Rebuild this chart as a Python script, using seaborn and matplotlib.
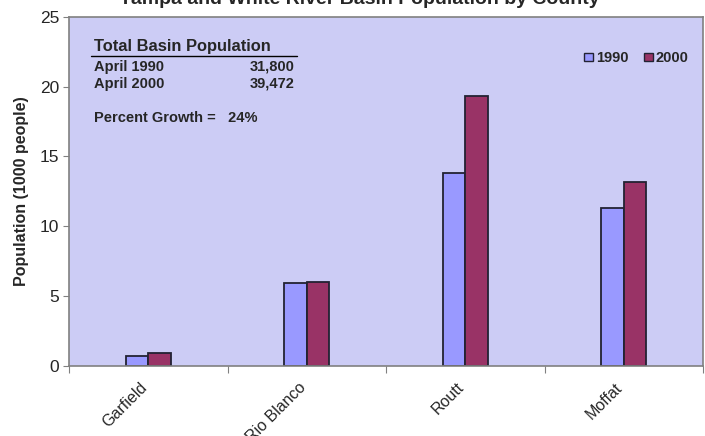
import matplotlib
matplotlib.use("Agg")
import matplotlib.pyplot as plt
import matplotlib.transforms as mtransforms
import seaborn as sns
import pandas as pd
from matplotlib.patches import Rectangle
from matplotlib.lines import Line2D

counties = ["Garfield", "Rio Blanco", "Routt", "Moffat"]
pop_1990 = [0.68, 5.96, 13.83, 11.33]
pop_2000 = [0.95, 5.98, 19.36, 13.18]
years = ["1990", "2000"]
y_ticks = [0, 5, 10, 15, 20, 25]
summary_rows = [("April 1990", "31,800"), ("April 2000", "39,472")]
growth_text = "Percent Growth =   24%"

df = pd.DataFrame({
    "County": counties * 2,
    "Year": [years[0]] * len(counties) + [years[1]] * len(counties),
    "Population": pop_1990 + pop_2000,
})

sns.set_theme(style="white")
plt.rcParams["font.family"] = ["Liberation Sans", "DejaVu Sans"]

fig = plt.figure(figsize=(7.05, 4.36), dpi=100)
ax = fig.add_axes([69 / 705, 1 - 366 / 436, (703 - 69) / 705, (366 - 16.7) / 436])
ax.set_facecolor("#CCCCF5")

palette = {"1990": "#9999FF", "2000": "#993366"}
sns.barplot(data=df, x="County", y="Population", hue="Year", order=counties,
            hue_order=years, palette=palette, width=0.284, gap=0,
            edgecolor="#222233", linewidth=1.3, saturation=1, ax=ax,
            legend=False, errorbar=None)

ax.set_xlim(-0.5, 3.5)
ax.set_ylim(0, 25)
ax.set_yticks(y_ticks)
ax.set_yticklabels([str(t) for t in y_ticks], fontsize=12.5)
ax.tick_params(axis="y", which="major", direction="out", length=4, width=0.8,
               color="#808080", left=True, pad=3)

# category labels under the groups, tick marks at the group boundaries
ax.set_xticks(range(len(counties)))
ax.set_xticklabels(counties, rotation=45, ha="right", rotation_mode="anchor",
                   fontsize=11.5)
ax.tick_params(axis="x", which="major", length=0, pad=10)
shift = mtransforms.ScaledTranslation(-9 / 100, 0, fig.dpi_scale_trans)
for lbl in ax.get_xticklabels():
    lbl.set_transform(lbl.get_transform() + shift)
ax.set_xticks([-0.5, 0.5, 1.5, 2.5, 3.5], minor=True)
ax.tick_params(axis="x", which="minor", direction="out", length=5, width=0.8,
               color="#808080", bottom=True)
ax.set_xlabel("")
ax.set_ylabel("Population (1000 people)", fontsize=11.5, fontweight="bold",
              labelpad=8)

for side in ["left", "right", "top", "bottom"]:
    ax.spines[side].set_visible(True)
    ax.spines[side].set_color("#808080")
    ax.spines[side].set_linewidth(1.2)

# title (partly above the canvas)
fig.text(0.51, 1 - 3.5 / 436, "Yampa and White River Basin Population by County",
         ha="center", va="baseline", fontsize=14, fontweight="bold")


def fx(px):
    return px / 705


def fy(py):
    return 1 - py / 436


# summary table inside the plot area
fig.text(fx(94), fy(51.5), "Total Basin Population", fontsize=11.9,
         fontweight="bold", va="baseline")
fig.add_artist(Line2D([fx(91), fx(297)], [fy(56), fy(56)], color="black",
                      linewidth=1.0))
for i, (label, value) in enumerate(summary_rows):
    yb = 70.5 + i * 17.5
    fig.text(fx(94), fy(yb), label, fontsize=10.5, fontweight="bold",
             va="baseline")
    fig.text(fx(295), fy(yb), value, fontsize=10.5, fontweight="bold",
             va="baseline", ha="right")
fig.text(fx(94), fy(121.5), growth_text, fontsize=10.5, fontweight="bold",
         va="baseline")

# legend
for x0, yr in zip([584, 644], years):
    fig.add_artist(Rectangle((fx(x0), fy(61.5)), fx(8.5), 8.5 / 436,
                             facecolor=palette[yr], edgecolor="#222233",
                             linewidth=1.0))
    fig.text(fx(x0 + 12), fy(62), yr, fontsize=10.5, fontweight="bold",
             va="baseline")

fig.savefig("out.png", dpi=100, facecolor="white")
